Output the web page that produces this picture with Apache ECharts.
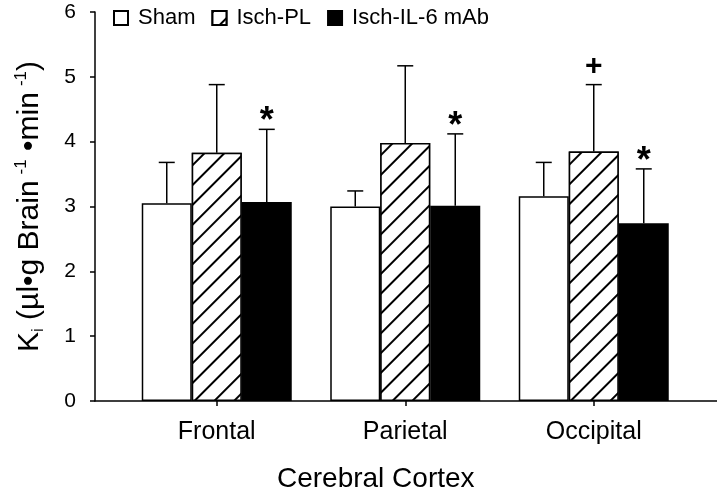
<!DOCTYPE html>
<html>
<head>
<meta charset="utf-8">
<script src="https://cdn.jsdelivr.net/npm/echarts@6/dist/echarts.min.js"></script>
<style>
  html, body { margin: 0; padding: 0; background: #fff; }
  #main { width: 717px; height: 491px; }
</style>
</head>
<body>
<div id="main"></div>
<script>
  // data
  var categories = ['Frontal', 'Parietal', 'Occipital'];
  var seriesNames = ['Sham', 'Isch-PL', 'Isch-IL-6 mAb'];
  var shamMean = [3.05, 3.00, 3.16];
  var shamErr = [0.63, 0.24, 0.52];
  var plMean = [3.83, 3.98, 3.85];
  var plErr = [1.05, 1.19, 1.03];
  var mabMean = [3.07, 3.01, 2.74];
  var mabErr = [1.12, 1.11, 0.84];
  var shamMarks = ['', '', ''];
  var plMarks = ['', '', '+'];
  var mabMarks = ['*', '*', '*'];
  var yTicks = [0, 1, 2, 3, 4, 5, 6];

  var font = '"Liberation Sans", Arial, sans-serif';
  var barW = 50;

  var hatch = {
    symbol: 'rect',
    symbolSize: 1,
    color: '#000',
    backgroundColor: '#fff',
    dashArrayX: [1, 0],
    dashArrayY: [1.6, 11.4],
    rotation: -Math.PI / 4
  };

  // error bar (upper only) + significance mark
  function errSeries(mean, err, marks, offset) {
    return {
      type: 'custom',
      xAxisIndex: 1,
      yAxisIndex: 1,
      z: 5,
      silent: true,
      data: categories.map(function (c, i) { return [i, mean[i], mean[i] + err[i]]; }),
      renderItem: function (params, api) {
        var i = api.value(0);
        var p0 = api.coord([i, api.value(1)]);
        var p1 = api.coord([i, api.value(2)]);
        var x = p0[0] + offset;
        var kids = [
          { type: 'line', shape: { x1: x, y1: p0[1], x2: x, y2: p1[1] },
            style: { stroke: '#000', lineWidth: 1.5 } },
          { type: 'line', shape: { x1: x - 8, y1: p1[1], x2: x + 8, y2: p1[1] },
            style: { stroke: '#000', lineWidth: 1.5 } }
        ];
        var m = marks[params.dataIndex];
        if (m) {
          var star = m === '*';
          kids.push({
            type: 'text',
            style: {
              text: m,
              x: x,
              y: star ? p1[1] + 11 : p1[1] - 3,
              align: 'center',
              verticalAlign: 'bottom',
              font: 'bold ' + (star ? 36 : 30) + 'px ' + font,
              fill: '#000'
            }
          });
        }
        return { type: 'group', children: kids };
      }
    };
  }

  var myChart = echarts.init(document.getElementById('main'), null, { renderer: 'canvas' });

  var option = {
    backgroundColor: '#fff',
    animation: false,
    textStyle: { fontFamily: font, color: '#000' },
    legend: {
      left: 113,
      top: 7,
      itemWidth: 14,
      itemHeight: 14,
      itemGap: 16,
      padding: 0,
      icon: 'rect',
      data: seriesNames,
      textStyle: { fontSize: 22, color: '#000', fontFamily: font, padding: [0, 0, 0, 5] }
    },
    grid: [
      { left: 95, right: 0, top: 12, bottom: 90, outerBoundsMode: 'none' },
      { left: 122.5, width: 565.5, top: 12, bottom: 90, outerBoundsMode: 'none' }
    ],
    xAxis: [
      {
        gridIndex: 0, type: 'value', min: 0, max: 1,
        axisLine: { show: true, onZero: false, lineStyle: { color: '#000', width: 1.5 } },
        axisTick: { show: false }, axisLabel: { show: false }, splitLine: { show: false }
      },
      {
        gridIndex: 1, type: 'category', data: categories,
        axisLine: { show: false },
        axisTick: { show: true, alignWithLabel: true, length: 5, lineStyle: { color: '#000', width: 1.5 } },
        axisLabel: { fontSize: 25, color: '#000', margin: 19, fontFamily: font },
        name: 'Cerebral Cortex',
        nameLocation: 'middle',
        nameGap: 64,
        nameTextStyle: { fontSize: 28, color: '#000', fontFamily: font, padding: [0, 59, 0, 0] }
      }
    ],
    yAxis: [
      {
        gridIndex: 0, type: 'value', min: yTicks[0], max: yTicks[yTicks.length - 1], interval: 1,
        axisLine: { show: true, lineStyle: { color: '#000', width: 1.5 } },
        axisTick: { show: true, length: 5, lineStyle: { color: '#000', width: 1.5 } },
        axisLabel: { fontSize: 21, color: '#000', margin: 19, fontFamily: font },
        splitLine: { show: false },
        name: '{n|K}{sub|i}{n| (µl•g Brain}{sup|-1}{n| •min}{sup|-1}{n|)}',
        nameLocation: 'middle',
        nameGap: 48,
        nameRotate: 90,
        nameTextStyle: {
          fontFamily: font,
          rich: {
            n: { fontSize: 30, color: '#000', fontFamily: font, lineHeight: 34 },
            sub: { fontSize: 17, color: '#000', fontFamily: font, verticalAlign: 'bottom', lineHeight: 32 },
            sup: { fontSize: 17, color: '#000', fontFamily: font, verticalAlign: 'top', lineHeight: 18, padding: [0, 0, 0, 6] }
          }
        }
      },
      {
        gridIndex: 1, type: 'value', min: 0, max: 6, interval: 1, show: false
      }
    ],
    series: [
      {
        name: seriesNames[0], type: 'bar', xAxisIndex: 1, yAxisIndex: 1,
        barWidth: barW, barGap: '0%', data: shamMean,
        itemStyle: { color: '#fff', borderColor: '#000', borderWidth: 1.5 }
      },
      {
        name: seriesNames[1], type: 'bar', xAxisIndex: 1, yAxisIndex: 1,
        barWidth: barW, barGap: '0%', data: plMean,
        itemStyle: { color: '#fff', borderColor: '#000', borderWidth: 1.5, decal: hatch }
      },
      {
        name: seriesNames[2], type: 'bar', xAxisIndex: 1, yAxisIndex: 1,
        barWidth: barW, barGap: '0%', data: mabMean,
        itemStyle: { color: '#000', borderColor: '#000', borderWidth: 1.5 }
      },
      errSeries(shamMean, shamErr, shamMarks, -barW),
      errSeries(plMean, plErr, plMarks, 0),
      errSeries(mabMean, mabErr, mabMarks, barW)
    ]
  };

  myChart.setOption(option, true);
</script>
</body>
</html>
